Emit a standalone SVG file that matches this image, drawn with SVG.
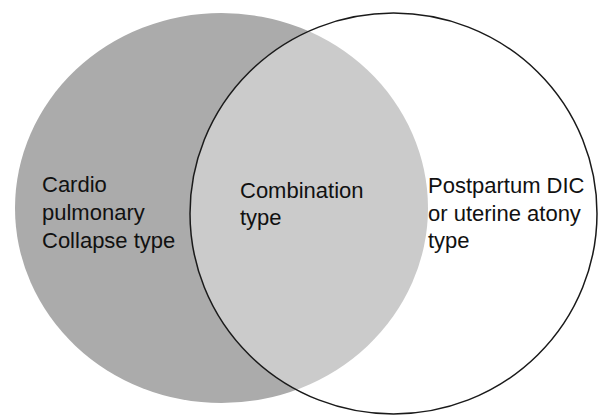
<svg xmlns="http://www.w3.org/2000/svg" width="603" height="415" viewBox="0 0 603 415">
<style>
text{font-family:"Liberation Sans",Arial,sans-serif;font-size:22px;fill:#111}
.outline{fill:none;stroke:#1a1a1a;stroke-width:1.5}
</style>
<defs>
<clipPath id="rightClip"><ellipse cx="393.5" cy="213.5" rx="203.5" ry="200.5"/></clipPath>
</defs>
<rect width="603" height="415" fill="#ffffff"/>
<g id="set-left">
<ellipse cx="221.5" cy="208" rx="206.5" ry="195" fill="#ababab"/>
</g>
<g id="set-right">
<ellipse cx="393.5" cy="213.5" rx="203.5" ry="200.5" fill="#ffffff"/>
</g>
<g id="intersection">
<ellipse cx="221.5" cy="208" rx="206.5" ry="195" fill="#cbcbcb" clip-path="url(#rightClip)"/>
</g>
<g id="connectors">
<ellipse class="outline" cx="393.5" cy="213.5" rx="203.5" ry="200.5"/>
</g>
<g id="label-left">
<text x="42" y="192">Cardio</text>
<text x="42" y="220">pulmonary</text>
<text x="42" y="248">Collapse type</text>
</g>
<g id="label-center">
<text x="240" y="198">Combination</text>
<text x="240" y="225">type</text>
</g>
<g id="label-right">
<text x="428" y="193">Postpartum DIC</text>
<text x="428" y="221">or uterine atony</text>
<text x="428" y="248">type</text>
</g>
</svg>
